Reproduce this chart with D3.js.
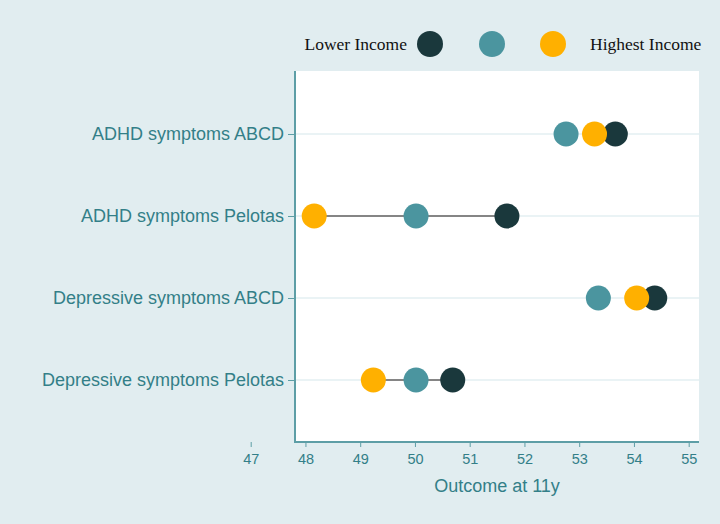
<!DOCTYPE html>
<html>
<head>
<meta charset="utf-8">
<script src="https://cdn.jsdelivr.net/npm/d3@7/dist/d3.min.js"></script>
<style>
  html, body { margin: 0; padding: 0; background: #e1edf0; }
  svg { display: block; }
</style>
</head>
<body>
<svg id="chart" width="720" height="524"></svg>
<script>
// data
var outcomes = ["ADHD symptoms ABCD", "ADHD symptoms Pelotas", "Depressive symptoms ABCD", "Depressive symptoms Pelotas"]
var lowerIncome   = [53.66, 51.68, 54.38, 50.69]
var middleIncome  = [52.76, 50.02, 53.35, 50.02]
var highestIncome = [53.28, 48.16, 54.05, 49.24]
var xTicks = [47, 48, 49, 50, 51, 52, 53, 54, 55]

var colDark = "#1a383c", colTeal = "#4b959f", colYellow = "#ffb000"
var textCol = "#337f88", axisCol = "#5d9ea6"
var sans = "Arial, 'Liberation Sans', sans-serif"

var svg = d3.select("#chart")

// plot box
var box = {left: 295, right: 699, top: 71, bottom: 442}

// x scale: Stata put the 47 tick outside the plot region, so keep the mapping by tick
var x = d3.scaleLinear().domain([47, 55]).range([250.7, 688.7])
var y = d3.scalePoint().domain(outcomes).range([134, 380])

svg.append("rect")
  .attr("x", box.left).attr("y", box.top)
  .attr("width", box.right - box.left).attr("height", box.bottom - box.top)
  .attr("fill", "#ffffff")

// horizontal gridlines
svg.append("g").selectAll("line")
  .data(outcomes)
  .enter().append("line")
  .attr("x1", box.left).attr("x2", box.right)
  .attr("y1", d => y(d)).attr("y2", d => y(d))
  .attr("stroke", "#e3eff2").attr("stroke-width", 1.5)

// y axis
var yAxis = svg.append("g")
  .attr("transform", "translate(" + box.left + ",0)")
  .call(d3.axisLeft(y).tickSize(7).tickPadding(4))
yAxis.select(".domain").remove()
yAxis.selectAll("line").attr("stroke", axisCol)
yAxis.selectAll("text")
  .attr("fill", textCol)
  .style("font-family", sans)
  .style("font-size", "18px")

// x axis
var xAxis = svg.append("g")
  .attr("transform", "translate(0," + box.bottom + ")")
  .call(d3.axisBottom(x).tickValues(xTicks).tickFormat(d3.format("d")).tickSize(5).tickPadding(7))
xAxis.select(".domain").remove()
xAxis.selectAll("line").attr("stroke", axisCol)
xAxis.selectAll("text")
  .attr("fill", textCol)
  .style("font-family", sans)
  .style("font-size", "14.5px")

// frame lines left + bottom
svg.append("path")
  .attr("d", "M" + box.left + "," + box.top + "V" + box.bottom + "H" + box.right)
  .attr("fill", "none")
  .attr("stroke", axisCol)
  .attr("stroke-width", 2)

svg.append("text")
  .attr("x", 497).attr("y", 492)
  .attr("text-anchor", "middle")
  .attr("fill", textCol)
  .style("font-family", sans)
  .style("font-size", "18px")
  .text("Outcome at 11y")

// connecting line: highest income -> lower income
svg.append("g").selectAll("line")
  .data(outcomes)
  .enter().append("line")
  .attr("x1", (d, i) => x(highestIncome[i]))
  .attr("x2", (d, i) => x(lowerIncome[i]))
  .attr("y1", d => y(d)).attr("y2", d => y(d))
  .attr("stroke", "#858585").attr("stroke-width", 2)

var r = 12.5
var series = [
  {vals: lowerIncome, col: colDark},
  {vals: middleIncome, col: colTeal},
  {vals: highestIncome, col: colYellow}
]
series.forEach(s => {
  svg.append("g").selectAll("circle")
    .data(outcomes)
    .enter().append("circle")
    .attr("cx", (d, i) => x(s.vals[i]))
    .attr("cy", d => y(d))
    .attr("r", r)
    .attr("fill", s.col)
})

// legend
var lg = svg.append("g").style("font-family", "'Liberation Serif', 'Times New Roman', serif").style("font-size", "17.5px")
lg.append("text").attr("x", 407).attr("y", 50).attr("text-anchor", "end").attr("fill", "#111").text("Lower Income")
lg.append("circle").attr("cx", 430).attr("cy", 44).attr("r", 13).attr("fill", colDark)
lg.append("circle").attr("cx", 492).attr("cy", 44).attr("r", 13).attr("fill", colTeal)
lg.append("circle").attr("cx", 553).attr("cy", 44).attr("r", 13).attr("fill", colYellow)
lg.append("text").attr("x", 590).attr("y", 50).attr("fill", "#111").text("Highest Income")
</script>
</body>
</html>
